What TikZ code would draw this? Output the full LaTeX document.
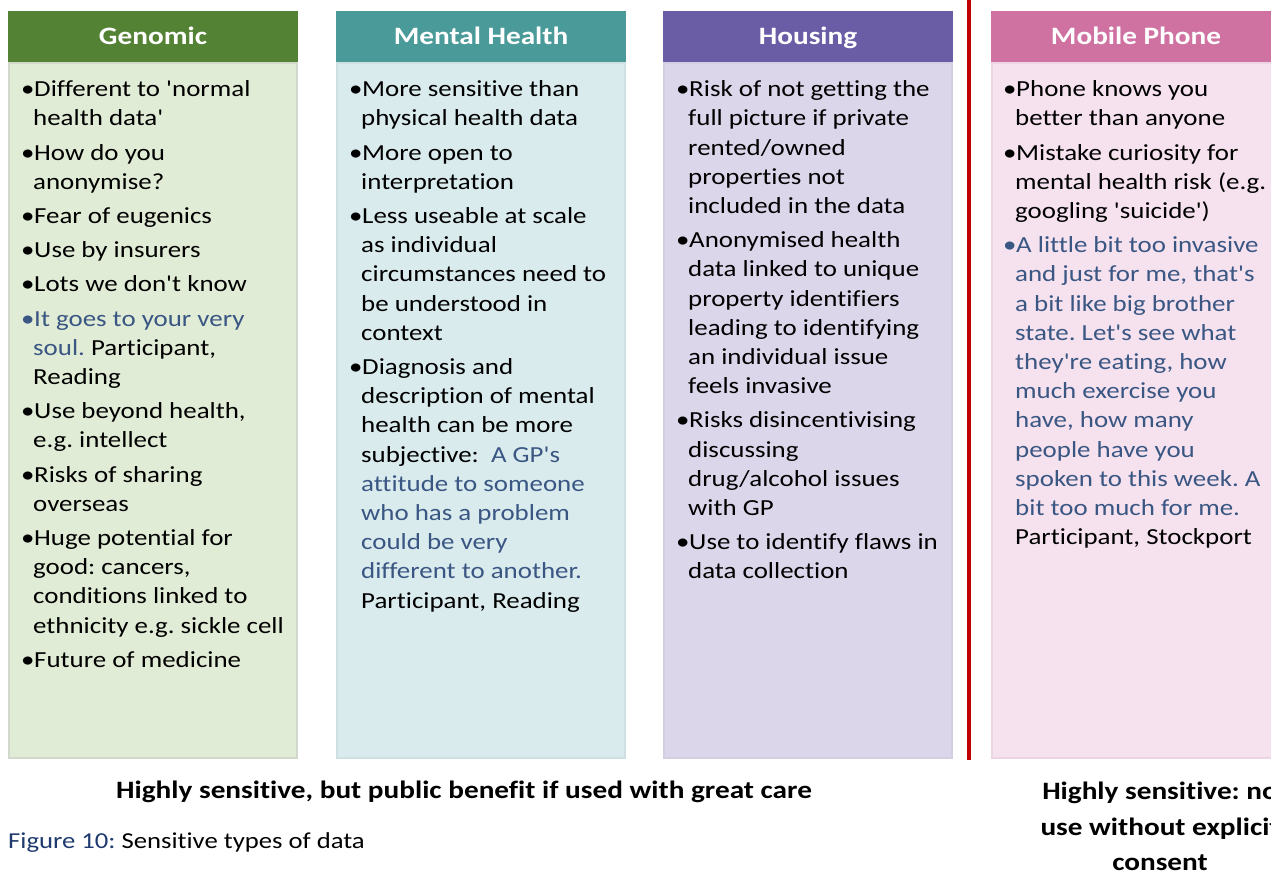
\documentclass[tikz,border=0pt]{standalone}
\usepackage{fontspec}
\setmainfont{Carlito}[Ligatures={TeXOff,NoCommon},FakeStretch=1.17]
\usetikzlibrary{positioning}

\definecolor{genhead}{HTML}{548235}
\definecolor{genfill}{HTML}{E1ECD6}
\definecolor{genline}{HTML}{D2D9CC}
\definecolor{mhhead}{HTML}{4A9A99}
\definecolor{mhfill}{HTML}{DAEBEE}
\definecolor{mhline}{HTML}{CFE0E2}
\definecolor{houhead}{HTML}{6A5CA5}
\definecolor{houfill}{HTML}{DCD6EA}
\definecolor{houline}{HTML}{D3CEE0}
\definecolor{mobhead}{HTML}{CF72A2}
\definecolor{mobfill}{HTML}{F5E2EE}
\definecolor{mobline}{HTML}{EBD5E2}
\definecolor{quote}{HTML}{3A5683}
\definecolor{redline}{HTML}{C00000}
\definecolor{capblue}{HTML}{1F3A6E}

\newcommand{\bl}{\makebox[13pt][l]{•}}
\newcommand{\ind}{\hspace*{12pt}}
\newcommand{\quo}[1]{\textcolor{quote}{#1}}
\frenchspacing

\begin{document}
\begin{tikzpicture}[x=1pt,y=-1pt]
\tikzset{head/.style = {minimum width=290pt,minimum height=51pt,inner sep=0pt,text height=17pt,text depth=0pt,text=white,font=\fontsize{25}{30}\selectfont\bfseries}}
\tikzset{body/.style = {minimum width=288pt,minimum height=694pt,inner sep=0pt,line width=2pt}}
\tikzset{list/.style = {anchor=north west,inner sep=0pt,align=left,font=\fontsize{23}{29.2}\selectfont}}
\tikzset{verdict/.style = {align=center,inner sep=0pt,font=\fontsize{25}{35.5}\selectfont\bfseries}}
\useasboundingbox (0,0) rectangle (1271,872);
\clip (0,0) rectangle (1271,872);

% headers
\node[head,fill=genhead] (gen) at (153,36.5) {Genomic};
\node[head,fill=mhhead] (mh) at (481,36.5) {Mental Health};
\node[head,fill=houhead] (hou) at (808,36.5) {Housing};
\node[head,fill=mobhead] (mob) at (1136,36.5) {Mobile Phone};

% bodies
\node[body,fill=genfill,draw=genline] (genbody) at (153,410.5) {};
\node[body,fill=mhfill,draw=mhline] (mhbody) at (481,410.5) {};
\node[body,fill=houfill,draw=houline] (houbody) at (808,410.5) {};
\node[body,fill=mobfill,draw=mobline] (mobbody) at (1136,410.5) {};

% red divider
\coordinate (divtop) at (969,0);
\coordinate (divbot) at (969,760);
\draw[redline,line width=4pt] (divtop) -- (divbot);

% lists
\node[list] (genlist) at (21,80.5) {\bl Different to 'normal\\
\ind health data'\\[5pt]
\bl How do you\\
\ind anonymise?\\[5pt]
\bl Fear of eugenics\\[5pt]
\bl Use by insurers\\[5pt]
\bl Lots we don't know\\[5pt]
\quo{\bl It goes to your very}\\
\ind\quo{soul.} Participant,\\
\ind Reading\\[5pt]
\bl Use beyond health,\\
\ind e.g. intellect\\[5pt]
\bl Risks of sharing\\
\ind overseas\\[5pt]
\bl Huge potential for\\
\ind good: cancers,\\
\ind conditions linked to\\
\ind ethnicity e.g. sickle cell\\[5pt]
\bl Future of medicine};

\node[list] (mhlist) at (349,80.5) {\bl More sensitive than\\
\ind physical health data\\[5pt]
\bl More open to\\
\ind interpretation\\[5pt]
\bl Less useable at scale\\
\ind as individual\\
\ind circumstances need to\\
\ind be understood in\\
\ind context\\[5pt]
\bl Diagnosis and\\
\ind description of mental\\
\ind health can be more\\
\ind subjective:\ \ \quo{A GP's}\\
\ind\quo{attitude to someone}\\
\ind\quo{who has a problem}\\
\ind\quo{could be very}\\
\ind\quo{different to another.}\\
\ind Participant, Reading};

\node[list] (houlist) at (676,80.5) {\bl Risk of not getting the\\
\ind full picture if private\\
\ind rented/owned\\
\ind properties not\\
\ind included in the data\\[5pt]
\bl Anonymised health\\
\ind data linked to unique\\
\ind property identifiers\\
\ind leading to identifying\\
\ind an individual issue\\
\ind feels invasive\\[5pt]
\bl Risks disincentivising\\
\ind discussing\\
\ind drug/alcohol issues\\
\ind with GP\\[5pt]
\bl Use to identify flaws in\\
\ind data collection};

\node[list] (moblist) at (1003,80.5) {\bl Phone knows you\\
\ind better than anyone\\[5pt]
\bl Mistake curiosity for\\
\ind mental health risk (e.g.\\
\ind googling 'suicide')\\[5pt]
\quo{\bl A little bit too invasive}\\
\ind\quo{and just for me, that's}\\
\ind\quo{a bit like big brother}\\
\ind\quo{state. Let's see what}\\
\ind\quo{they're eating, how}\\
\ind\quo{much exercise you}\\
\ind\quo{have, how many}\\
\ind\quo{people have you}\\
\ind\quo{spoken to this week. A}\\
\ind\quo{bit too much for me.}\\
\ind Participant, Stockport};

% verdicts and caption
\node[verdict] (public) at (464,792) {Highly sensitive, but public benefit if used with great care};
\node[verdict,anchor=north] (noconsent) at (1160,782) {Highly sensitive: no\\use without explicit\\consent};
\node[anchor=west,inner sep=0pt,font=\fontsize{22.8}{26}\selectfont] (caption) at (8,843) {\textcolor{capblue}{Figure 10:} Sensitive types of data};

\end{tikzpicture}
\end{document}
